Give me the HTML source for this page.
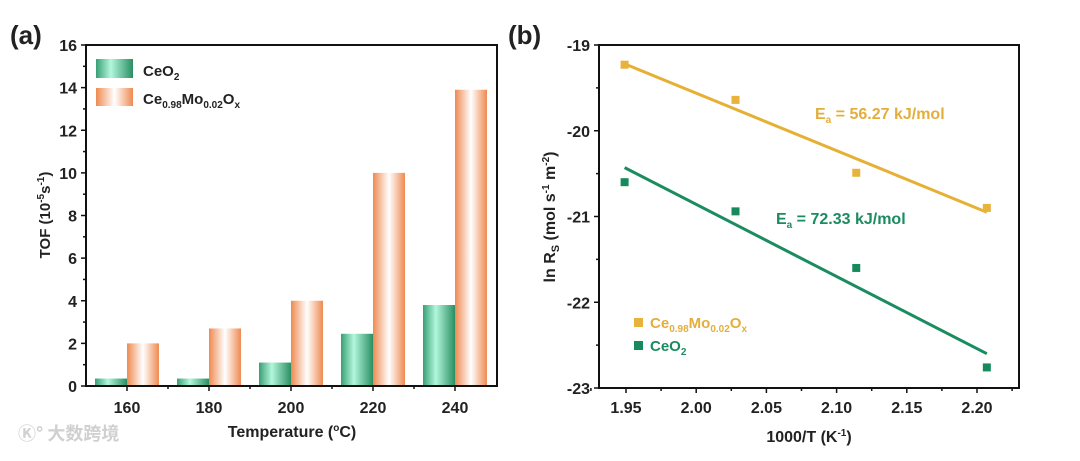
<!DOCTYPE html>
<html><head><meta charset="utf-8"><style>
body{margin:0;background:#fff;width:1080px;height:456px;overflow:hidden}
svg text{font-family:"Liberation Sans",Arial,sans-serif;font-weight:bold;fill:#222}
</style></head><body>
<svg id="s" width="1080" height="456">
<defs>
<linearGradient id="gg" x1="0" x2="1"><stop offset="0" stop-color="#3a9f74"/><stop offset="0.4" stop-color="#b2f7dc"/><stop offset="1" stop-color="#2a8e62"/></linearGradient>
<linearGradient id="og" x1="0" x2="1"><stop offset="0" stop-color="#ee8a50"/><stop offset="0.5" stop-color="#ffffff"/><stop offset="1" stop-color="#ee8a50"/></linearGradient>
</defs>
<g id="pa"></g>
<g id="pb"></g>
<text x="10" y="44" font-size="26">(a)</text>
<text x="508" y="44" font-size="26">(b)</text>
<text x="18" y="440" font-size="18" style="fill:#d0d0d0;font-family:'Noto Sans CJK SC',sans-serif">Ⓚ° 大数跨境</text>
</svg>
<script>
const categories=[160,180,200,220,240];
const ceo2Tof=[0.35,0.35,1.1,2.45,3.8];
const moTof=[2.0,2.7,4.0,10.0,13.9];
const yTicksA=[0,2,4,6,8,10,12,14,16];
const xB=[1.949,2.028,2.114,2.207];
const moLnR=[-19.23,-19.64,-20.49,-20.9];
const ceLnR=[-20.6,-20.94,-21.6,-22.76];
const moFit=[-19.22,-20.95];
const ceFit=[-20.43,-22.6];
const xTicksB=[1.95,2.00,2.05,2.10,2.15,2.20];
const yTicksB=[-19,-20,-21,-22,-23];
const NS='http://www.w3.org/2000/svg';
function el(p,t,a,txt){const e=document.createElementNS(NS,t);for(const k in a)e.setAttribute(k,a[k]);if(txt!==undefined)e.innerHTML=txt;p.appendChild(e);return e;}
// Panel A
const pa=document.getElementById('pa');
const aL=86,aR=497,aT=45,aB=386;
const ya=v=>aB-(v/16)*(aB-aT);
const xa=i=>127+i*82;
categories.forEach((c,i)=>{
 let r=el(pa,'rect',{x:xa(i)-32,y:ya(ceo2Tof[i]),width:32,height:aB-ya(ceo2Tof[i]),fill:'url(#gg)'});
 
 
 r=el(pa,'rect',{x:xa(i),y:ya(moTof[i]),width:32,height:aB-ya(moTof[i]),fill:'url(#og)'});
 
 
 el(pa,'line',{x1:xa(i),x2:xa(i),y1:aB,y2:aB+5,stroke:'#111','stroke-width':1.5});
 if(i<4)el(pa,'line',{x1:xa(i)+41,x2:xa(i)+41,y1:aB,y2:aB+3,stroke:'#111','stroke-width':1.5});
 const t=el(pa,'text',{x:xa(i),y:413,'font-size':16,'text-anchor':'middle'},c);
 
 
});
yTicksA.forEach(v=>{
 el(pa,'line',{x1:aL-5,x2:aL,y1:ya(v),y2:ya(v),stroke:'#111','stroke-width':1.5});
 if(v<16)el(pa,'line',{x1:aL-3,x2:aL,y1:ya(v+1),y2:ya(v+1),stroke:'#111','stroke-width':1.5});
 const t=el(pa,'text',{x:aL-9,y:ya(v)+6,'font-size':16,'text-anchor':'end'},v);
 
 
});
el(pa,'rect',{x:aL,y:aT,width:aR-aL,height:aB-aT,fill:'none',stroke:'#111','stroke-width':2});
el(pa,'rect',{x:96,y:59,width:37,height:19,fill:'url(#gg)'});
el(pa,'rect',{x:96,y:88,width:37,height:18,fill:'url(#og)'});
let t=el(pa,'text',{x:143,y:76,'font-size':15},'CeO<tspan font-size="10" dy="4">2</tspan>');


t=el(pa,'text',{x:143,y:104,'font-size':15},'Ce<tspan font-size="10" dy="4">0.98</tspan><tspan dy="-4">Mo</tspan><tspan font-size="10" dy="4">0.02</tspan><tspan dy="-4">O</tspan><tspan font-size="10" dy="4">x</tspan>');


t=el(pa,'text',{x:292,y:437,'font-size':16,'text-anchor':'middle'},'Temperature (<tspan font-size="10" dy="-6">o</tspan><tspan dy="6">C)</tspan>');


t=el(pa,'text',{x:0,y:0,'font-size':15,'text-anchor':'middle',transform:'translate(50,215) rotate(-90)'},'TOF (10<tspan font-size="10" dy="-6">-5</tspan><tspan dy="6">s</tspan><tspan font-size="10" dy="-6">-1</tspan><tspan dy="6">)</tspan>');


// Panel B
const pb=document.getElementById('pb');
const bL=599,bR=1019,bT=45,bB=388;
const xb=v=>626+(v-1.95)/0.25*(977-626);
const yb=v=>bT+(-19-v)/4*(bB-bT);
xTicksB.forEach(v=>{
 el(pb,'line',{x1:xb(v),x2:xb(v),y1:bB,y2:bB+5,stroke:'#111','stroke-width':1.5});
 el(pb,'line',{x1:xb(v+0.025),x2:xb(v+0.025),y1:bB,y2:bB+3,stroke:'#111','stroke-width':1.5});
 const tt=el(pb,'text',{x:xb(v),y:413,'font-size':16,'text-anchor':'middle'},v.toFixed(2));
 
 
});
el(pb,'line',{x1:xb(1.925),x2:xb(1.925),y1:bB,y2:bB+3,stroke:'#111','stroke-width':1.5});
yTicksB.forEach(v=>{
 el(pb,'line',{x1:bL-5,x2:bL,y1:yb(v),y2:yb(v),stroke:'#111','stroke-width':1.5});
 if(v>-23)el(pb,'line',{x1:bL-3,x2:bL,y1:yb(v-0.5),y2:yb(v-0.5),stroke:'#111','stroke-width':1.5});
 const tt=el(pb,'text',{x:bL-9,y:yb(v)+6,'font-size':16,'text-anchor':'end'},v);
 
 
});
el(pb,'rect',{x:bL,y:bT,width:bR-bL,height:bB-bT,fill:'none',stroke:'#111','stroke-width':2});
let ln=el(pb,'line',{x1:xb(xB[0]),x2:xb(xB[3]),y1:yb(moFit[0]),y2:yb(moFit[1]),stroke:'#e6b035','stroke-width':3});


ln=el(pb,'line',{x1:xb(xB[0]),x2:xb(xB[3]),y1:yb(ceFit[0]),y2:yb(ceFit[1]),stroke:'#1b8c60','stroke-width':3});


xB.forEach((x,i)=>{
 let p=el(pb,'rect',{x:xb(x)-4,y:yb(moLnR[i])-4,width:8,height:8,fill:'#e8b23c'});
 
 
 p=el(pb,'rect',{x:xb(x)-4,y:yb(ceLnR[i])-4,width:8,height:8,fill:'#168a5c'});
 
 
});
t=el(pb,'text',{x:815,y:119,'font-size':16,style:'fill:#e3ae3c'},'E<tspan font-size="10" dy="4">a</tspan><tspan dy="-4"> = 56.27 kJ/mol</tspan>');


t=el(pb,'text',{x:776,y:224,'font-size':16,style:'fill:#1b8c60'},'E<tspan font-size="10" dy="4">a</tspan><tspan dy="-4"> = 72.33 kJ/mol</tspan>');


el(pb,'rect',{x:634,y:318,width:9,height:9,fill:'#e8b23c'});
el(pb,'rect',{x:634,y:341,width:9,height:9,fill:'#168a5c'});
t=el(pb,'text',{x:650,y:328,'font-size':15,style:'fill:#e3ae3c'},'Ce<tspan font-size="10" dy="4">0.98</tspan><tspan dy="-4">Mo</tspan><tspan font-size="10" dy="4">0.02</tspan><tspan dy="-4">O</tspan><tspan font-size="10" dy="4">x</tspan>');


t=el(pb,'text',{x:650,y:351,'font-size':15,style:'fill:#1b8c60'},'CeO<tspan font-size="10" dy="4">2</tspan>');


t=el(pb,'text',{x:809,y:442,'font-size':16,'text-anchor':'middle'},'1000/T (K<tspan font-size="10" dy="-6">-1</tspan><tspan dy="6">)</tspan>');


t=el(pb,'text',{x:0,y:0,'font-size':16,'text-anchor':'middle',transform:'translate(555,217) rotate(-90)'},'ln R<tspan font-size="11" dy="4">S</tspan><tspan dy="-4"> (mol s</tspan><tspan font-size="10" dy="-6">-1</tspan><tspan dy="6"> m</tspan><tspan font-size="10" dy="-6">-2</tspan><tspan dy="6">)</tspan>');


</script>
</body></html>
